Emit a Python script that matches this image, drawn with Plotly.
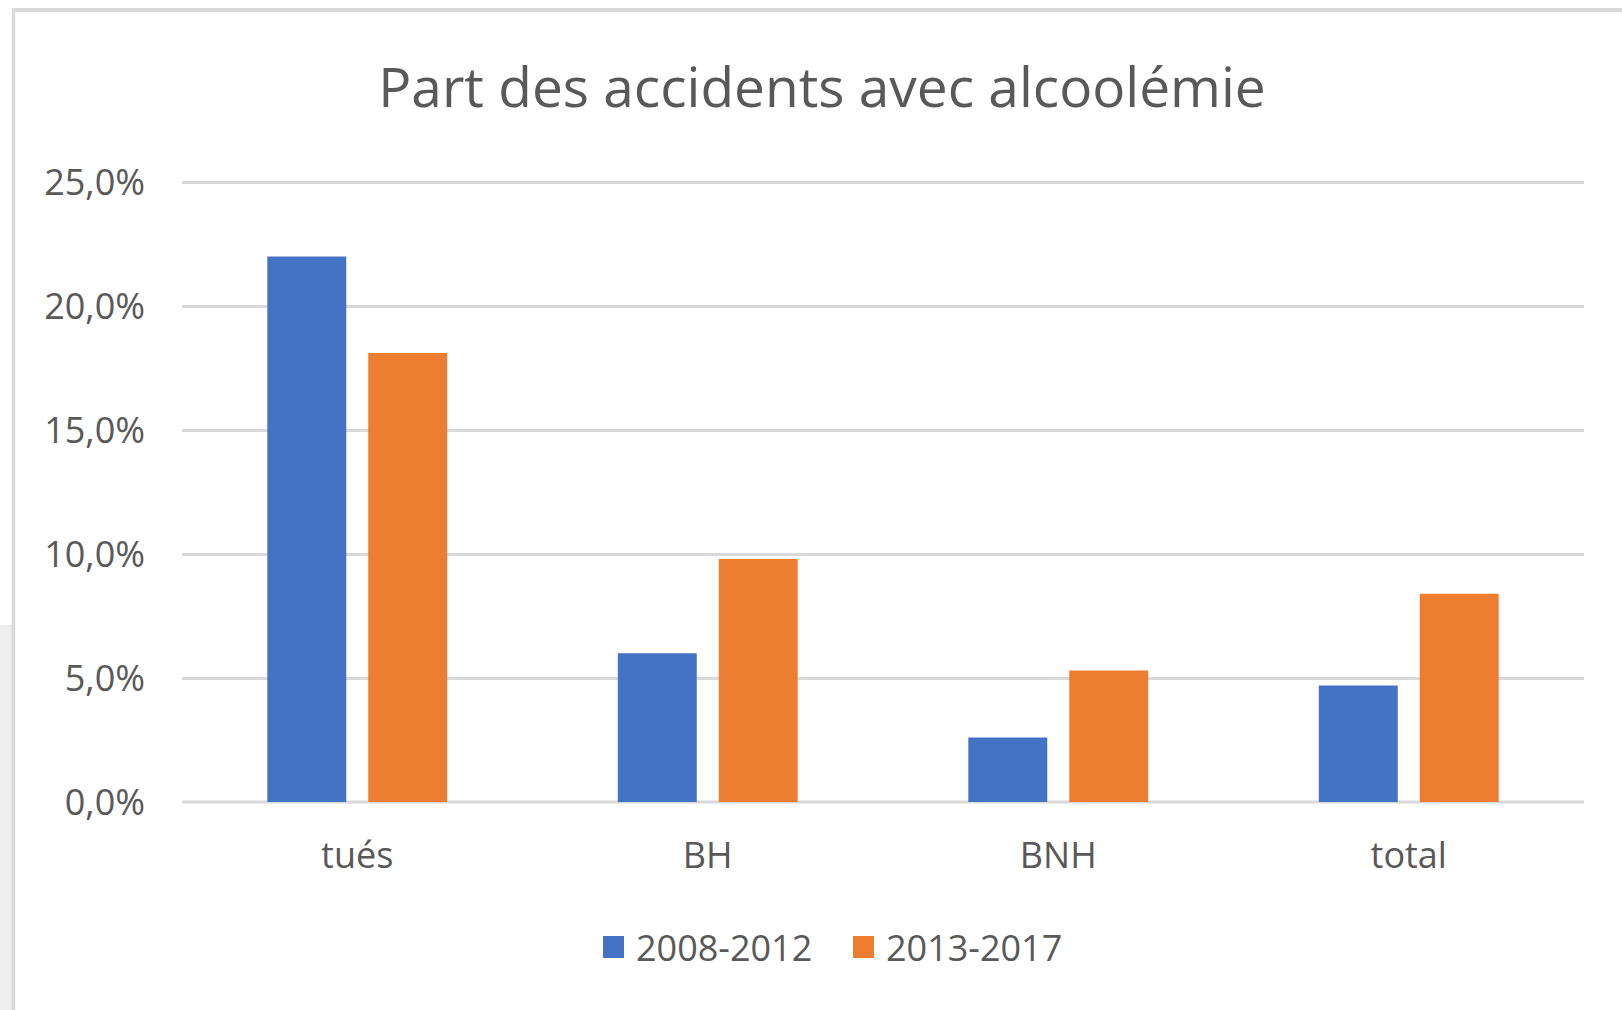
import plotly.graph_objects as go

categories = ["tués", "BH", "BNH", "total"]
series_names = ["2008-2012", "2013-2017"]
values_2008_2012 = [22.0, 6.0, 2.6, 4.7]
values_2013_2017 = [18.1, 9.8, 5.3, 8.4]
tick_values = [0, 5, 10, 15, 20, 25]
tick_labels = ["0,0%", "5,0%", "10,0%", "15,0%", "20,0%", "25,0%"]

BLUE = "#4472C4"
ORANGE = "#ED7D31"
TEXT = "#595959"
GRID = "#D9D9D9"
FONT = "Segoe UI, Open Sans, sans-serif"
series_colors = [BLUE, ORANGE]

W, H = 1622, 1010
ML, MR, MT, MB = 182, 38, 180, 208
PW, PH = W - ML - MR, H - MT - MB


def px_x(px):
    return (px - ML) / PW


def px_y(py):
    return (H - MB - py) / PH


fig = go.Figure()
fig.add_trace(go.Bar(x=categories, y=values_2008_2012, name=series_names[0],
                     marker=dict(color=BLUE, line=dict(width=0)), showlegend=False))
fig.add_trace(go.Bar(x=categories, y=values_2013_2017, name=series_names[1],
                     marker=dict(color=ORANGE, line=dict(width=0)), showlegend=False))

shapes = [
    dict(type="line", xref="paper", yref="paper", x0=0, x1=1, y0=0, y1=0,
         line=dict(color=GRID, width=3), layer="below"),
    dict(type="rect", xref="paper", yref="paper",
         x0=px_x(0), x1=px_x(12), y0=px_y(625), y1=px_y(H),
         fillcolor="#EEEEEE", line=dict(width=0), layer="below"),
    dict(type="line", xref="paper", yref="paper", x0=px_x(12), x1=px_x(W),
         y0=px_y(10), y1=px_y(10), line=dict(color=GRID, width=4)),
    dict(type="line", xref="paper", yref="paper", x0=px_x(13.5), x1=px_x(13.5),
         y0=px_y(8), y1=px_y(H), line=dict(color=GRID, width=3.5)),
]
annotations = []

# legend (key squares + labels)
legend_key_left = [603, 853]
legend_cy = 947
for name, color, kx in zip(series_names, series_colors, legend_key_left):
    shapes.append(dict(type="rect", xref="paper", yref="paper",
                       x0=px_x(kx), x1=px_x(kx + 21),
                       y0=px_y(legend_cy + 11), y1=px_y(legend_cy - 11),
                       fillcolor=color, line=dict(width=0)))
    annotations.append(dict(text=name, xref="paper", yref="paper",
                            x=px_x(kx + 31), y=px_y(legend_cy),
                            xanchor="left", yanchor="middle", showarrow=False,
                            font=dict(family=FONT, size=36, color=TEXT)))

fig.update_layout(
    width=W, height=H, autosize=False,
    margin=dict(l=ML, r=MR, t=MT, b=MB, pad=0),
    paper_bgcolor="white", plot_bgcolor="white",
    barmode="group", bargap=0.424, bargroupgap=0.218,
    font=dict(family=FONT, color=TEXT, size=36),
    showlegend=False,
    title=dict(text="Part des accidents avec alcoolémie",
               font=dict(family=FONT, size=55, color=TEXT),
               x=822 / W, xanchor="center", xref="container",
               y=1 - 88 / H, yanchor="middle", yref="container"),
    xaxis=dict(showgrid=False, zeroline=False, showline=False, ticks="",
               tickfont=dict(family=FONT, size=36, color=TEXT),
               ticklabelstandoff=29),
    yaxis=dict(range=[0, 25 + 2 / 24.8], tickvals=tick_values, ticktext=tick_labels,
               showgrid=True, gridcolor=GRID, gridwidth=3,
               zeroline=False, showline=False, ticks="",
               tickfont=dict(family=FONT, size=36, color=TEXT),
               ticklabelstandoff=36),
    shapes=shapes,
    annotations=annotations,
)

post = "document.body.style.margin = '0';"

fig.write_html("out.html", post_script=post, config={"displayModeBar": False})
